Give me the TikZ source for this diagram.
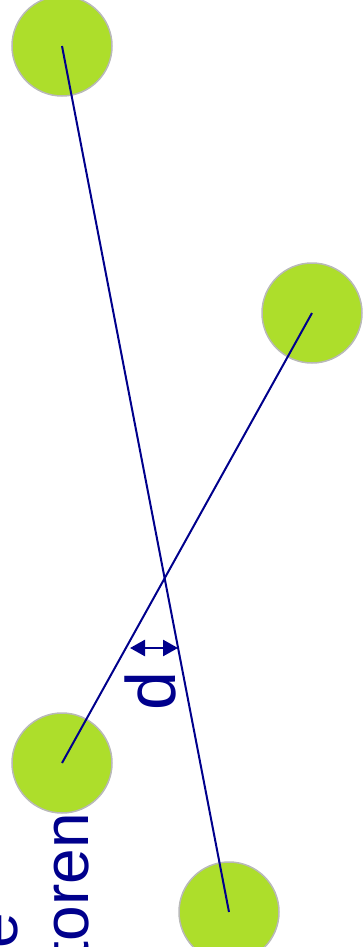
\documentclass[tikz,border=0pt]{standalone}
\usepackage{fontspec}
\setmainfont{Liberation Sans}
\usetikzlibrary{arrows.meta}
\definecolor{ballgreen}{RGB}{173,222,43}
\definecolor{ballrim}{RGB}{185,185,185}
\definecolor{navy}{RGB}{0,0,140}
\begin{document}
\begin{tikzpicture}[x=1pt,y=-1pt,
  ball/.style={circle,fill=ballgreen,draw=ballrim,line width=1.5pt,minimum size=100pt,inner sep=0pt},
  axis/.style={draw=navy,line width=2pt},
  lbl/.style={text=navy,font=\fontsize{64}{64}\selectfont,rotate=90,inner sep=0pt},
  dtip/.style={Triangle[length=15pt,width=16pt]}]
\useasboundingbox (0,0) rectangle (362,947);
\node[ball] (A) at (62,46) {};
\node[ball] (B) at (312,313) {};
\node[ball] (C) at (62,763) {};
\node[ball] (D) at (229,912) {};
\draw[axis] (A.center) -- (D.center);
\draw[axis] (B.center) -- (C.center);
\coordinate (dl) at (130,648);
\coordinate (dr) at (178,648);
\draw[navy,line width=2.6pt,{Triangle[length=15pt,width=16pt]}-{Triangle[length=15pt,width=16pt]}] (dl) -- (dr);
\node[lbl,anchor=base,font=\fontsize{70}{70}\selectfont] (d) at (175,691) {d};
\node[lbl,anchor=base east] (t1) at (88,813) {ktoren};
\node[lbl,anchor=base east] (t0) at (17,913) {e};
\end{tikzpicture}
\end{document}
